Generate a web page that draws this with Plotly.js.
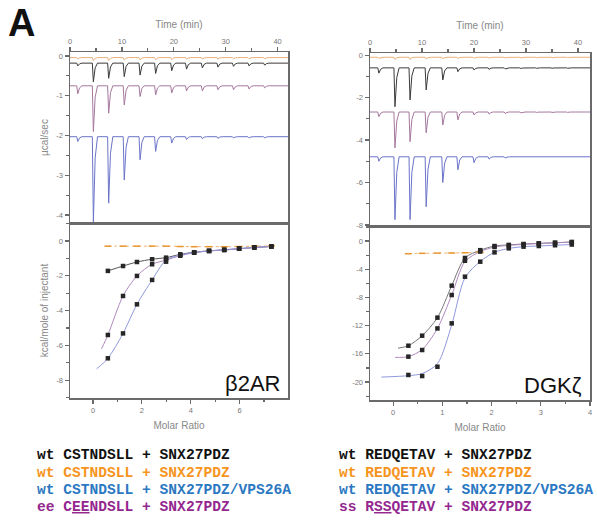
<!DOCTYPE html>
<html>
<head>
<meta charset="utf-8">
<script src="https://cdn.plot.ly/plotly-3.0.1.min.js"></script>
<style>html,body{margin:0;padding:0;background:#fff;}#chart{width:597px;height:528px;}</style>
</head>
<body>
<div id="chart"></div>
<script>
// ---------- DATA ----------
// Left panel (beta2AR) raw thermogram: injection times (min) and peak minima (ucal/sec)
const injTimesL = [1.3, 4.3, 7.25, 10.25, 13.3, 16.3, 19.4, 22.25, 25.3, 28.3, 31.3, 34.3, 37.3];
const baseL_orange = -0.04;
const peaksL_orange = [-0.07, -0.12, -0.11, -0.10, -0.10, -0.09, -0.09, -0.08, -0.08, -0.08, -0.07, -0.07, -0.07];
const baseL_black = -0.18;
const peaksL_black = [-0.25, -0.65, -0.56, -0.52, -0.48, -0.44, -0.37, -0.33, -0.30, -0.28, -0.26, -0.25, -0.23];
const baseL_purple = -0.75;
const peaksL_purple = [-0.95, -1.90, -1.44, -1.23, -1.02, -0.98, -0.93, -0.88, -0.88, -0.85, -0.85, -0.83, -0.80];
const baseL_blue = -2.03;
const peaksL_blue = [-2.15, -4.17, -3.70, -3.12, -2.61, -2.40, -2.19, -2.10, -2.08, -2.07, -2.06, -2.06, -2.06];

// Right panel (DGKzeta) raw thermogram
const injTimesR = [1.5, 4.6, 7.5, 10.6, 13.8, 16.7, 19.8, 22.7, 25.8, 28.8, 31.8, 34.8, 37.8];
const baseR_orange = -0.10;
const peaksR_orange = [-0.15, -0.20, -0.20, -0.18, -0.17, -0.16, -0.15, -0.14, -0.13, -0.13, -0.12, -0.12, -0.12];
const baseR_black = -0.60;
const peaksR_black = [-0.85, -2.43, -2.11, -1.64, -1.17, -0.78, -0.70, -0.67, -0.65, -0.63, -0.62, -0.62, -0.62];
const baseR_purple = -2.68;
const peaksR_purple = [-2.90, -4.37, -4.08, -3.66, -3.29, -3.05, -2.82, -2.78, -2.75, -2.72, -2.70, -2.70, -2.70];
const baseR_blue = -4.79;
const peaksR_blue = [-5.00, -7.75, -7.75, -7.14, -6.00, -5.40, -5.07, -4.90, -4.85, -4.82, -4.80, -4.80, -4.80];

// Left isotherm (kcal/mole of injectant vs molar ratio)
const ratioL = [0.61, 1.23, 1.80, 2.42, 2.99, 3.57, 4.14, 4.75, 5.37, 5.98, 6.60, 7.30];
const isoL_orange = [-0.30, -0.30, -0.30, -0.30, -0.30, -0.32, -0.33, -0.33, -0.33, -0.32, -0.30, -0.28];
const isoL_black = [-1.72, -1.44, -1.21, -1.05, -0.96, -0.77, -0.65, -0.57, -0.52, -0.45, -0.38, -0.32];
const isoL_blue = [-6.74, -5.31, -3.64, -2.24, -1.05, -0.80, -0.66, -0.57, -0.50, -0.44, -0.37, -0.31];
const isoL_purple = [-5.40, -3.16, -2.01, -1.34, -1.19, -0.85, -0.68, -0.58, -0.52, -0.45, -0.38, -0.32];
// fit curves
const fitL_x_blue = [0.15, 0.61, 1.23, 1.80, 2.42, 2.99, 3.57, 4.14, 4.75, 5.37, 5.98, 6.60, 7.30];
const fitL_y_blue = [-7.35, -6.74, -5.31, -3.64, -2.24, -1.10, -0.80, -0.66, -0.57, -0.50, -0.44, -0.37, -0.31];
const fitL_x_purple = [0.35, 0.61, 1.23, 1.80, 2.42, 2.99, 3.57, 4.14, 4.75, 5.37, 5.98, 6.60, 7.30];
const fitL_y_purple = [-6.20, -5.40, -3.16, -2.01, -1.34, -1.10, -0.85, -0.68, -0.58, -0.52, -0.45, -0.38, -0.32];

// Right isotherm
const ratioR = [0.31, 0.59, 0.90, 1.19, 1.46, 1.77, 2.06, 2.35, 2.65, 2.96, 3.29, 3.63];
const ratioR_orange = [0.31, 0.59, 0.90, 1.19, 1.46, 1.77];
const isoR_orange = [-1.80, -1.75, -1.72, -1.70, -1.66, -1.60];
const isoR_black = [-14.85, -13.43, -10.87, -6.33, -2.40, -1.30, -0.71, -0.55, -0.42, -0.33, -0.24, -0.14];
const isoR_purple = [-16.40, -15.46, -12.40, -7.66, -2.80, -1.50, -0.85, -0.62, -0.48, -0.36, -0.26, -0.16];
const isoR_blue = [-19.00, -19.15, -17.83, -11.68, -5.06, -2.93, -1.61, -1.04, -0.80, -0.71, -0.60, -0.50];
const fitR_x_blue = [-0.24, 0.31, 0.59, 0.90, 1.19, 1.46, 1.77, 2.06, 2.35, 2.65, 2.96, 3.29, 3.63];
const fitR_y_blue = [-19.30, -19.10, -18.80, -17.40, -11.90, -5.20, -2.90, -1.60, -1.05, -0.80, -0.70, -0.60, -0.50];
const fitR_x_purple = [0.04, 0.31, 0.59, 0.90, 1.19, 1.46, 1.77, 2.06, 2.35, 2.65, 2.96, 3.29, 3.63];
const fitR_y_purple = [-16.50, -16.40, -15.40, -12.40, -7.66, -2.90, -1.50, -0.85, -0.62, -0.48, -0.36, -0.26, -0.16];
const fitR_x_black = [0.10, 0.31, 0.59, 0.90, 1.19, 1.46, 1.77, 2.06, 2.35, 2.65, 2.96, 3.29, 3.63];
const fitR_y_black = [-15.20, -14.85, -13.43, -10.87, -6.33, -2.40, -1.30, -0.71, -0.55, -0.42, -0.33, -0.24, -0.14];

// Tick labels
const timeTicks = [0, 10, 20, 30, 40];
const ratioTicksL = [0, 2, 4, 6, 8];
const ratioTicksR = [0, 1, 2, 3, 4];
const powerTicksL = [0, -1, -2, -3, -4];
const powerTicksR = [0, -2, -4, -6, -8];
const heatTicksL = [0, -2, -4, -6, -8];
const heatTicksR = [0, -4, -8, -12, -16, -20];

// Legend texts
const legendLeft = [
  {text: 'wt CSTNDSLL + SNX27PDZ', color: '#111111'},
  {text: 'wt CSTNDSLL + SNX27PDZ', color: '#f7941d'},
  {text: 'wt CSTNDSLL + SNX27PDZ/VPS26A', color: '#2b78c2'},
  {text: 'ee C<u>EE</u>NDSLL + SNX27PDZ', color: '#93278f'}
];
const legendRight = [
  {text: 'wt REDQETAV + SNX27PDZ', color: '#111111'},
  {text: 'wt REDQETAV + SNX27PDZ', color: '#f7941d'},
  {text: 'wt REDQETAV + SNX27PDZ/VPS26A', color: '#2b78c2'},
  {text: 'ss R<u>SS</u>QETAV + SNX27PDZ', color: '#93278f'}
];

// ---------- BUILD ----------
const C = {black: '#3a3a3a', orange: '#eab07a', purple: '#a5789e', blue: '#6b74c9'};

function thermo(times, base, peaks) {
  const x = [0], y = [base];
  times.forEach((t, i) => {
    const p = peaks[i];
    x.push(t, t + 0.2, t + 0.55, t + 1.0);
    y.push(base, p, base + 0.25 * (p - base), base);
  });
  x.push(42.3); y.push(base);
  return {x, y};
}
function thermoTrace(times, base, peaks, color, xa, ya) {
  const d = thermo(times, base, peaks);
  return {x: d.x, y: d.y, xaxis: xa, yaxis: ya, mode: 'lines', type: 'scatter',
          line: {color: color, width: 1}, hoverinfo: 'skip'};
}
function pts(x, y, xa, ya) {
  return {x, y, xaxis: xa, yaxis: ya, mode: 'markers', type: 'scatter',
          marker: {symbol: 'square', size: 4.5, color: '#262626'}, hoverinfo: 'skip'};
}
function fit(x, y, color, xa, ya, dash) {
  return {x, y, xaxis: xa, yaxis: ya, mode: 'lines', type: 'scatter',
          line: {color: color, width: 1, shape: 'spline', smoothing: 0.8, dash: dash || 'solid'}, hoverinfo: 'skip'};
}

const traces = [
  // left thermograms
  thermoTrace(injTimesL, baseL_orange, peaksL_orange, C.orange, 'x2', 'y2'),
  thermoTrace(injTimesL, baseL_black, peaksL_black, C.black, 'x2', 'y2'),
  thermoTrace(injTimesL, baseL_purple, peaksL_purple, C.purple, 'x2', 'y2'),
  thermoTrace(injTimesL, baseL_blue, peaksL_blue, C.blue, 'x2', 'y2'),
  // right thermograms
  thermoTrace(injTimesR, baseR_orange, peaksR_orange, C.orange, 'x4', 'y4'),
  thermoTrace(injTimesR, baseR_black, peaksR_black, C.black, 'x4', 'y4'),
  thermoTrace(injTimesR, baseR_purple, peaksR_purple, C.purple, 'x4', 'y4'),
  thermoTrace(injTimesR, baseR_blue, peaksR_blue, C.blue, 'x4', 'y4'),
  // left isotherm fits
  fit(ratioL, isoL_orange, '#f0b070', 'x', 'y', 'dot'),
  fit(ratioL, isoL_black, '#555555', 'x', 'y'),
  fit(fitL_x_purple, fitL_y_purple, '#b08ac0', 'x', 'y'),
  fit(fitL_x_blue, fitL_y_blue, '#8f98dc', 'x', 'y'),
  // left isotherm points
  {x: ratioL, y: isoL_orange, xaxis: 'x', yaxis: 'y', mode: 'markers', type: 'scatter',
   marker: {symbol: 'line-ew-open', size: 5, color: '#e8962e', line: {width: 1.5, color: '#e8962e'}}, hoverinfo: 'skip'},
  pts(ratioL, isoL_black, 'x', 'y'),
  pts(ratioL, isoL_purple, 'x', 'y'),
  pts(ratioL, isoL_blue, 'x', 'y'),
  // right isotherm fits
  fit(ratioR_orange, isoR_orange, '#f0b070', 'x3', 'y3', 'dot'),
  fit(fitR_x_black, fitR_y_black, '#777777', 'x3', 'y3'),
  fit(fitR_x_purple, fitR_y_purple, '#b08ac0', 'x3', 'y3'),
  fit(fitR_x_blue, fitR_y_blue, '#8f98dc', 'x3', 'y3'),
  {x: ratioR_orange, y: isoR_orange, xaxis: 'x3', yaxis: 'y3', mode: 'markers', type: 'scatter',
   marker: {symbol: 'line-ew-open', size: 5, color: '#e8962e', line: {width: 1.5, color: '#e8962e'}}, hoverinfo: 'skip'},
  pts(ratioR, isoR_black, 'x3', 'y3'),
  pts(ratioR, isoR_purple, 'x3', 'y3'),
  pts(ratioR, isoR_blue, 'x3', 'y3')
];

const W = 597, H = 528;
const px = v => v / W, py = v => 1 - v / H;

const axBase = {
  showline: true, linecolor: '#6a6a6a', linewidth: 1.5, mirror: true,
  ticks: 'outside', ticklen: 4, tickwidth: 1.2, tickcolor: '#6a6a6a',
  tickfont: {family: 'Liberation Sans, Arial, sans-serif', size: 7.5, color: '#777'},
  showgrid: false, zeroline: false, fixedrange: true,
  title: {font: {family: 'Liberation Sans, Arial, sans-serif', size: 10, color: '#888'}}
};
function ax(o) { return Object.assign({}, JSON.parse(JSON.stringify(axBase)), o); }

const dxL = [px(70), px(288)], dxR = [px(370), px(590)];

const layout = {
  width: W, height: H, margin: {l: 0, r: 0, t: 0, b: 0},
  paper_bgcolor: '#fff', plot_bgcolor: '#fff', showlegend: false,
  xaxis: ax({domain: dxL, anchor: 'y', range: [-0.94, 7.98], tickvals: ratioTicksL, ticktext: ratioTicksL.map(String),
             minor: {dtick: 1, tick0: 0, ticklen: 2.5, tickcolor: '#6a6a6a', ticks: 'outside'},
             title: {text: 'Molar Ratio', standoff: 8, font: {family: 'Liberation Sans, Arial, sans-serif', size: 10, color: '#888'}}}),
  yaxis: ax({domain: [py(398), py(223)], anchor: 'x', range: [-9.02, 1.03], tickvals: heatTicksL, ticktext: heatTicksL.map(String),
             minor: {dtick: 1, tick0: 0, ticklen: 2.5, tickcolor: '#6a6a6a', ticks: 'outside'},
             title: {text: 'kcal/mole of injectant', standoff: 6, font: {family: 'Liberation Sans, Arial, sans-serif', size: 10, color: '#888'}}}),
  xaxis2: ax({domain: dxL, anchor: 'y2', side: 'top', range: [0, 42], tickvals: timeTicks, ticktext: timeTicks.map(String),
              minor: {dtick: 5, tick0: 0, ticklen: 2.5, tickcolor: '#6a6a6a', ticks: 'outside'},
              title: {text: 'Time (min)', standoff: 6, font: {family: 'Liberation Sans, Arial, sans-serif', size: 10, color: '#888'}}}),
  yaxis2: ax({domain: [py(223), py(52)], anchor: 'x2', range: [-4.2, 0.1], tickvals: powerTicksL, ticktext: powerTicksL.map(String),
              minor: {dtick: 0.5, tick0: 0, ticklen: 2.5, tickcolor: '#6a6a6a', ticks: 'outside'},
              title: {text: 'µcal/sec', standoff: 6, font: {family: 'Liberation Sans, Arial, sans-serif', size: 10, color: '#888'}}}),
  xaxis3: ax({domain: dxR, anchor: 'y3', range: [-0.47, 4.0], tickvals: ratioTicksR, ticktext: ratioTicksR.map(String),
              minor: {dtick: 0.5, tick0: 0, ticklen: 2.5, tickcolor: '#6a6a6a', ticks: 'outside'},
              title: {text: 'Molar Ratio', standoff: 8, font: {family: 'Liberation Sans, Arial, sans-serif', size: 10, color: '#888'}}}),
  yaxis3: ax({domain: [py(400), py(226)], anchor: 'x3', range: [-22.55, 2.13], tickvals: heatTicksR, ticktext: heatTicksR.map(String),
              minor: {dtick: 2, tick0: 0, ticklen: 2.5, tickcolor: '#6a6a6a', ticks: 'outside'}}),
  xaxis4: ax({domain: dxR, anchor: 'y4', side: 'top', range: [0, 42.3], tickvals: timeTicks, ticktext: timeTicks.map(String),
              minor: {dtick: 5, tick0: 0, ticklen: 2.5, tickcolor: '#6a6a6a', ticks: 'outside'},
              title: {text: 'Time (min)', standoff: 6, font: {family: 'Liberation Sans, Arial, sans-serif', size: 10, color: '#888'}}}),
  yaxis4: ax({domain: [py(226), py(53)], anchor: 'x4', range: [-8.05, 0.1], tickvals: powerTicksR, ticktext: powerTicksR.map(String),
              minor: {dtick: 1, tick0: 0, ticklen: 2.5, tickcolor: '#6a6a6a', ticks: 'outside'}}),
  annotations: []
};

// panel letter and protein labels
layout.annotations.push({xref: 'paper', yref: 'paper', x: px(6), y: py(23), xanchor: 'left', yanchor: 'middle',
  text: '<b>A</b>', showarrow: false, font: {family: 'Liberation Sans, Arial, sans-serif', size: 38, color: '#111'}});
layout.annotations.push({xref: 'paper', yref: 'paper', x: px(282), y: py(383), xanchor: 'right', yanchor: 'middle',
  text: 'β2AR', showarrow: false, font: {family: 'Liberation Sans, Arial, sans-serif', size: 22, color: '#111'}});
layout.annotations.push({xref: 'paper', yref: 'paper', x: px(584), y: py(385), xanchor: 'right', yanchor: 'middle',
  text: 'DGKζ', showarrow: false, font: {family: 'Liberation Sans, Arial, sans-serif', size: 22, color: '#111'}});

const rowsY = [455, 472.5, 490, 507];
legendLeft.forEach((r, i) => layout.annotations.push({xref: 'paper', yref: 'paper', x: px(35), y: py(rowsY[i]),
  xanchor: 'left', yanchor: 'middle', showarrow: false, text: '<b>' + r.text + '</b>',
  font: {family: 'Liberation Mono, Courier New, monospace', size: 14.6, color: r.color}}));
legendRight.forEach((r, i) => layout.annotations.push({xref: 'paper', yref: 'paper', x: px(337), y: py(rowsY[i]),
  xanchor: 'left', yanchor: 'middle', showarrow: false, text: '<b>' + r.text + '</b>',
  font: {family: 'Liberation Mono, Courier New, monospace', size: 14.6, color: r.color}}));

Plotly.newPlot('chart', traces, layout, {staticPlot: true, displayModeBar: false});
</script>
</body>
</html>
